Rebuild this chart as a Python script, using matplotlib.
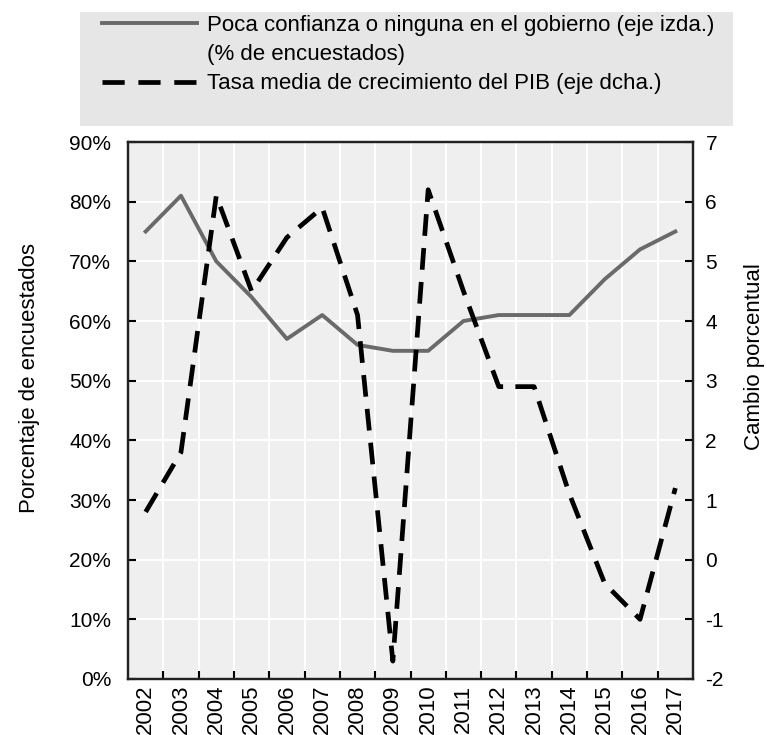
import matplotlib.pyplot as plt
import matplotlib.patches as mpatches
from matplotlib.lines import Line2D
import numpy as np

plt.rcParams['font.family'] = ['Liberation Sans', 'DejaVu Sans']
plt.rcParams['axes.unicode_minus'] = False

years = [str(y) for y in range(2002, 2018)]
confianza = [75, 81, 70, 64, 57, 61, 56, 55, 55, 60, 61, 61, 61, 67, 72, 75]
pib = [0.8, 1.8, 6.1, 4.5, 5.4, 5.9, 4.1, -1.7, 6.2, 4.5, 2.9, 2.9, 1.1, -0.4, -1.0, 1.2]

lbl_conf = "Poca confianza o ninguna en el gobierno (eje izda.)"
lbl_conf2 = "(% de encuestados)"
lbl_pib = "Tasa media de crecimiento del PIB (eje dcha.)"

fig = plt.figure(figsize=(7.67, 7.35), dpi=100)
ax = fig.add_axes([128/767, 1-679/735, (693-128)/767, (679-142)/735])
ax2 = ax.twinx()

x = np.arange(len(years))
ax.set_facecolor('#efefef')
l1, = ax.plot(x, confianza, color='#6a6a6a', lw=2.8, zorder=3)
l2, = ax2.plot(x, pib, color='black', lw=3.4, dashes=(4.6, 2.6),
               dash_capstyle='butt', zorder=4)

ax.set_xlim(-0.5, len(years) - 0.5)
ax.set_ylim(0, 90)
ax2.set_ylim(-2, 7)

ax.set_yticks(np.arange(0, 91, 10))
ax.set_yticklabels([f"{v}%" for v in range(0, 91, 10)])
ax2.set_yticks(np.arange(-2, 8, 1))

ax.set_xticks(x)
ax.set_xticklabels(years, rotation=90)
ax.set_xticks(x[:-1] + 0.5, minor=True)

ax.grid(True, axis='y', color='white', lw=1.5)
ax.grid(True, axis='x', which='minor', color='white', lw=1.5)
ax.set_axisbelow(True)

ax.tick_params(axis='x', which='major', length=0, pad=4, labelsize=16)
ax.tick_params(axis='x', which='minor', direction='in', length=6, width=1.5)
ax.tick_params(axis='y', direction='in', length=6, width=1.5, pad=12, labelsize=15)
ax2.tick_params(axis='y', direction='in', length=6, width=1.5, pad=9, labelsize=15)

for a in (ax, ax2):
    for s in a.spines.values():
        s.set_linewidth(1.6)
        s.set_color('#222222')

ax.set_ylabel("Porcentaje de encuestados", fontsize=16)
ax.yaxis.set_label_coords(-0.155, 0.56)
ax2.set_ylabel("Cambio porcentual", fontsize=16)
ax2.yaxis.set_label_coords(1.09, 0.60)

# legend box
fig.patches.append(mpatches.Rectangle((80/767, 1-126/735), (733-80)/767, (126-12)/735,
                                      transform=fig.transFigure, facecolor='#e6e6e6',
                                      edgecolor='none', zorder=0))
blank = Line2D([], [], color='none')
h2 = Line2D([], [], color='black', lw=3.4, dashes=(4.7, 2.9), dash_capstyle='butt')
fig.legend([l1, blank, h2], [lbl_conf, lbl_conf2, lbl_pib],
           loc='upper left', bbox_to_anchor=(102/767, 1-15/735),
           frameon=False, fontsize=16, handlelength=4.28, handletextpad=0.45,
           labelspacing=0.37, borderpad=0, borderaxespad=0)

fig.savefig('out.png', dpi=100)
